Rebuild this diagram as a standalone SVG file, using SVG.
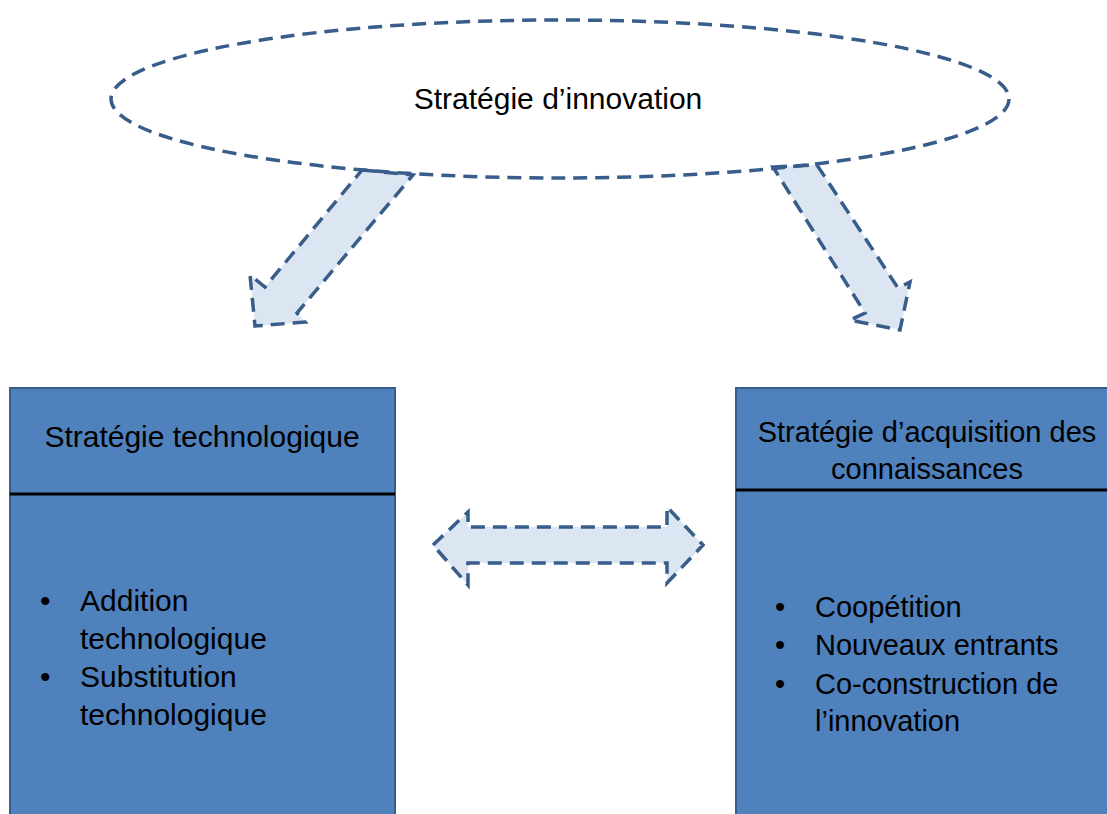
<svg xmlns="http://www.w3.org/2000/svg" width="1107" height="814" viewBox="0 0 1107 814">
<style>
.t{font-family:"Liberation Sans",Arial,sans-serif;font-size:30px;fill:#000}
.s{font-size:29px}
.dash{fill:#DCE6F2;stroke:#385D8A;stroke-width:3.5;stroke-dasharray:14 8;stroke-linejoin:miter}
.box{fill:#4F81BD;stroke:#385D8A;stroke-width:2}
.sep{stroke:#000;stroke-width:3}
</style>
<rect width="1107" height="814" fill="#fff"/>
<g id="connectors">
<polygon class="dash" points="362,170 413,175 297,313 305,322 255,326 250,275 265,287"/>
<polygon class="dash" points="773,167 817,165 898,288 910,282 900,330 850,320 865,313"/>
<polygon class="dash" points="433,545 468,512 468,527 667,527 667,507 703,545 667,583 667,563 468,563 468,585"/>
</g>
<g id="innovation">
<ellipse cx="560" cy="99" rx="449" ry="79" fill="none" stroke="#385D8A" stroke-width="3.5" stroke-dasharray="14 8"/>
<text class="t" x="558" y="109" text-anchor="middle">Stratégie d’innovation</text>
</g>
<g id="techno">
<rect class="box" x="10" y="388" width="385" height="440"/>
<line class="sep" x1="10" y1="494" x2="395" y2="494"/>
<text class="t" x="202" y="447" text-anchor="middle">Stratégie technologique</text>
<text class="t" x="40" y="611">•</text>
<text class="t" x="80" y="611">Addition</text>
<text class="t" x="80" y="649">technologique</text>
<text class="t" x="40" y="687">•</text>
<text class="t" x="80" y="687">Substitution</text>
<text class="t" x="80" y="725">technologique</text>
</g>
<g id="acquisition">
<rect class="box" x="736" y="388" width="380" height="440"/>
<line class="sep" x1="736" y1="490" x2="1107" y2="490"/>
<text class="t s" x="927" y="442" text-anchor="middle">Stratégie d’acquisition des</text>
<text class="t s" x="927" y="479" text-anchor="middle">connaissances</text>
<text class="t s" x="775" y="617">•</text>
<text class="t s" x="815" y="617">Coopétition</text>
<text class="t s" x="775" y="655">•</text>
<text class="t s" x="815" y="655">Nouveaux entrants</text>
<text class="t s" x="775" y="694">•</text>
<text class="t s" x="815" y="694">Co-construction de</text>
<text class="t s" x="815" y="731">l’innovation</text>
</g>
</svg>
